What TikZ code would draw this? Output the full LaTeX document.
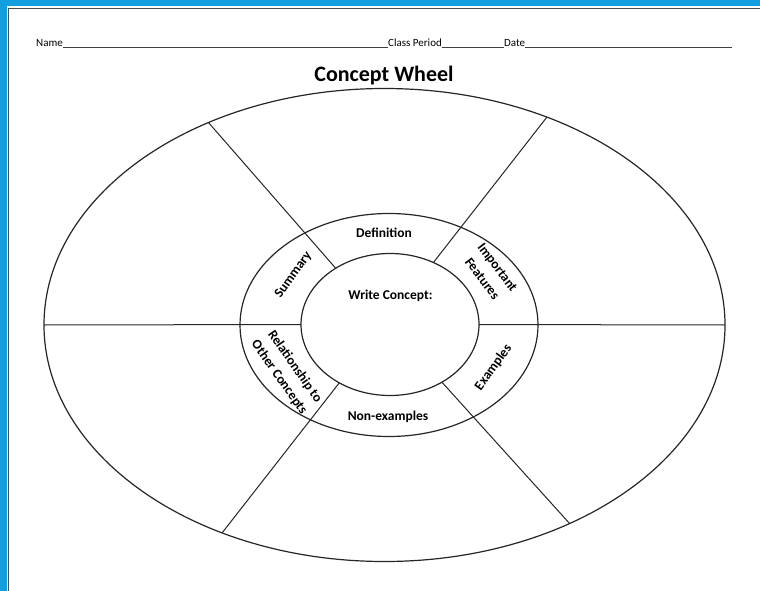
\documentclass[tikz,border=0pt]{standalone}
\usepackage{fontspec}
\setmainfont{Carlito}
\usetikzlibrary{shapes.geometric}
\definecolor{frameblue}{RGB}{19,158,224}
\begin{document}
\begin{tikzpicture}[x=1pt,y=-1pt,
  ring/.style={draw=black!85, line width=1.2pt, ellipse, inner sep=0pt, outer sep=0pt},
  divider/.style={draw=black!85, line width=1pt},
  lbl/.style={font=\fontsize{13.5}{19}\selectfont\bfseries, align=center, inner sep=0pt},
  hdr/.style={font=\fontsize{11}{13}\selectfont, inner sep=0pt, anchor=base west},
  blank/.style={draw=black!75, line width=0.8pt}]
\useasboundingbox (0,0) rectangle (760,591);
\fill[white] (0,0) rectangle (760,591);
\fill[frameblue] (0,0) rectangle (760,6.5);
\fill[frameblue] (0,0) rectangle (6.5,591);
\draw[black!70, line width=1.5pt] (8.5,591) -- (8.5,8.5) -- (760,8.5);
% header
\node[hdr] (name) at (36,47) {Name};
\node[hdr] (class) at (388,47) {Class Period};
\node[hdr] (date) at (504,47) {Date};
\coordinate (dateend) at (732,47);
\draw[blank] (name.base east) -- (class.base west);
\draw[blank] (class.base east) -- (date.base west);
\draw[blank] (date.base east) -- (dateend);
% title
\node[font=\fontsize{22}{26}\selectfont\bfseries, anchor=base, inner sep=0pt] (title) at (384,82) {Concept Wheel};
% ellipses
\node[ring, minimum width=681pt, minimum height=473pt] (outer) at (384.5,325) {};
\node[ring, minimum width=298pt, minimum height=223pt] (middle) at (389,325) {};
\node[ring, minimum width=178pt, minimum height=142pt] (inner) at (390,324.5) {};
% dividers
\draw[divider] (inner.180) -- (outer.180);
\draw[divider] (inner.0) -- (outer.0);
\draw[divider] (inner.134) -- (outer.131);
\draw[divider] (inner.55) -- (outer.52);
\draw[divider] (inner.229) -- (outer.232);
\draw[divider] (inner.312) -- (outer.313);
% labels
\node[lbl] (def) at (384,233) {Definition};
\node[lbl] (concept) at (390.5,296) {Write Concept:};
\node[lbl] (nonex) at (388,417) {Non-examples};
\node[lbl, rotate=54] (summary) at (293.5,275) {Summary};
\node[lbl, rotate=-53] (features) at (490,273) {Important\\Features};
\node[lbl, rotate=54] (examples) at (493.5,367.5) {Examples};
\node[lbl, rotate=-55] (relation) at (287,372) {Relationship to\\Other Concepts};
\end{tikzpicture}
\end{document}
